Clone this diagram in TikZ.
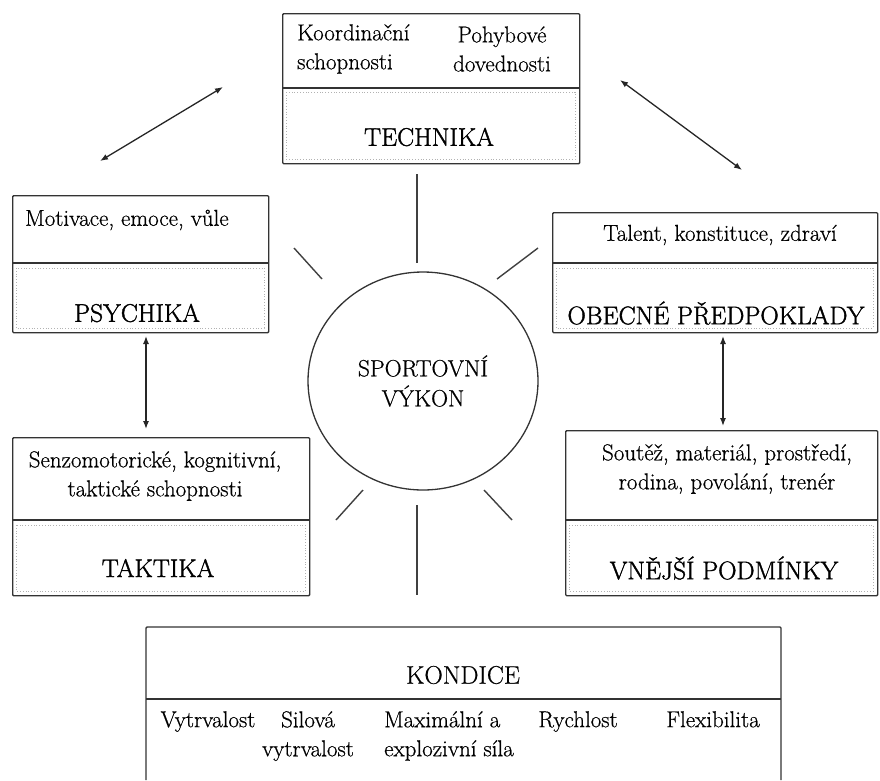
\documentclass[tikz,border=0pt]{standalone}
\usepackage{fontspec}
\setmainfont{Latin Modern Roman}[FakeBold=0.6]
\newfontfamily\headfont{Latin Modern Roman}[FakeBold=1.4]
\usepackage{tikz}
\usetikzlibrary{arrows.meta, shapes.geometric}

\begin{document}
\begin{tikzpicture}[x=1pt, y=-1pt, >={Latex[length=8pt,width=6pt]},
    frame/.style={draw=black!80, line width=1.4pt, rounded corners=1pt, anchor=north west, inner sep=0pt},
    divider/.style={draw=black!80, line width=2.2pt},
    inner/.style={draw=black!30, dotted, line width=0.8pt},
    txt/.style={font=\fontsize{23}{29}\selectfont, inner sep=0pt},
    title/.style={font=\headfont\fontsize{25.5}{29}\selectfont, inner sep=0pt},
    ray/.style={draw=black!75, line width=1.4pt},
    link/.style={<->, draw=black!85, line width=1.3pt}]
    \useasboundingbox (0,0) rectangle (880,780);

    % outer boxes
    \node[frame, minimum width=297pt, minimum height=150pt] (tech) at (282,13) {};
    \node[frame, minimum width=256pt, minimum height=137pt] (psych) at (12,195) {};
    \node[frame, minimum width=325pt, minimum height=120pt] (obec) at (552,212) {};
    \node[frame, minimum width=297pt, minimum height=158pt] (takt) at (12,437) {};
    \node[frame, minimum width=312pt, minimum height=165pt] (vnej) at (565,430) {};
    \draw[draw=black!80, line width=1.4pt, rounded corners=1pt] (146,780) |- (781,627) -- (781,780);

    % dividers
    \draw[divider] (282,88) -- (579,88);
    \draw[divider] (12,263) -- (268,263);
    \draw[divider] (552,263) -- (877,263);
    \draw[divider] (12,520) -- (309,520);
    \draw[divider] (565,520) -- (877,520);
    \draw[divider] (146,699) -- (781,699);

    % faint frames in the lower parts
    \draw[inner] (286,92) rectangle (575,159);
    \draw[inner] (16,268) rectangle (264,328);
    \draw[inner] (556,268) rectangle (873,328);
    \draw[inner] (16,525) rectangle (305,591);
    \draw[inner] (569,525) rectangle (873,591);

    % texts
    \node[txt, align=left, anchor=west] (koord) at (297,49) {Koordinační\\schopnosti};
    \node[txt, align=center] (pohyb) at (502,49) {Pohybové\\dovednosti};
    \node[title] (techT) at (429,137) {TECHNIKA};

    \node[txt, anchor=west] (motiv) at (25,220) {Motivace, emoce, vůle};
    \node[title] (psychT) at (137,313) {PSYCHIKA};

    \node[txt] (talent) at (720,235) {Talent, konstituce, zdraví};
    \node[title] (obecT) at (716,313) {OBECNÉ PŘEDPOKLADY};

    \node[txt, align=center] (senzo) at (155,476) {Senzomotorické, kognitivní,\\taktické schopnosti};
    \node[title] (taktT) at (158,568) {TAKTIKA};

    \node[txt, align=center] (soutez) at (727,469) {Soutěž, materiál, prostředí,\\rodina, povolání, trenér};
    \node[title] (vnejT) at (724,568) {VNĚJŠÍ PODMÍNKY};

    \node[txt, font=\fontsize{25.5}{29}\selectfont] (kond) at (463,675) {KONDICE};
    \node[txt, anchor=north] (vytrv) at (208,711) {Vytrvalost};
    \node[txt, align=center, anchor=north] (silova) at (308,711) {Silová\\vytrvalost};
    \node[txt, align=left, anchor=north west] (maxim) at (384,711) {Maximální a\\explozivní síla};
    \node[txt, anchor=north] (rychl) at (578,711) {Rychlost};
    \node[txt, anchor=north] (flex) at (713,711) {Flexibilita};

    % centre
    \node[ellipse, draw=black!80, line width=1.3pt, minimum width=230pt, minimum height=218pt,
        align=center, font=\fontsize{23.5}{30}\selectfont] (perf) at (423,381) {SPORTOVNÍ\\VÝKON};

    % rays
    \draw[ray] (417,174) -- (417,263);
    \draw[ray] (294,248) -- (322,279);
    \draw[ray] (538,248) -- (497,279);
    \draw[ray] (363,490) -- (336,520);
    \draw[ray] (484,490) -- (512,520);
    \draw[ray] (417,505) -- (417,595);

    % arrows
    \coordinate (ulA) at (100,161);
    \coordinate (ulB) at (223,87);
    \coordinate (urA) at (620,80);
    \coordinate (urB) at (742,170);
    \coordinate (lA) at (146,336);
    \coordinate (lB) at (146,429);
    \coordinate (rA) at (723,336);
    \coordinate (rB) at (723,426);
    \draw[link] (ulA) -- (ulB);
    \draw[link] (urA) -- (urB);
    \draw[link] (lA) -- (lB);
    \draw[link] (rA) -- (rB);
\end{tikzpicture}
\end{document}
